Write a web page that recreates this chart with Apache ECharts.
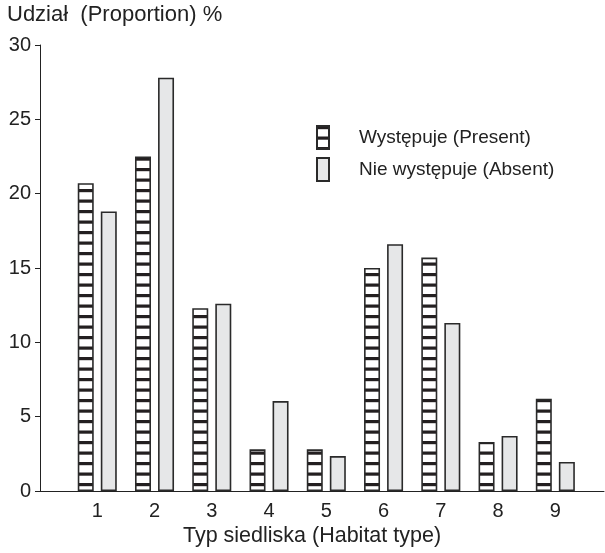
<!DOCTYPE html>
<html>
<head>
<meta charset="utf-8">
<script src="https://cdn.jsdelivr.net/npm/echarts@6/dist/echarts.min.js"></script>
<style>html,body{margin:0;padding:0;background:#fff}#c{width:605px;height:553px}</style>
</head>
<body>
<div id="c"></div>
<script>
const categories = [1, 2, 3, 4, 5, 6, 7, 8, 9];
const present = [20.7, 22.5, 12.3, 2.8, 2.8, 15.0, 15.7, 3.3, 6.2];
const absent = [18.8, 27.8, 12.6, 6.05, 2.35, 16.6, 11.3, 3.7, 1.95];
const seriesNames = ['Występuje (Present)', 'Nie występuje (Absent)'];
const yTitle = 'Udział  (Proportion) %';
const xTitle = 'Typ siedliska (Habitat type)';

const FONT = '"Liberation Sans", Arial, sans-serif';
const INK = '#222';

// horizontal stripe pattern
const pc = document.createElement('canvas');
pc.width = 8; pc.height = 21;
const g = pc.getContext('2d');
g.fillStyle = '#fff'; g.fillRect(0, 0, 8, 21);
g.fillStyle = '#231f20';
g.fillRect(0, 0, 8, 3.2);
g.fillRect(0, 10.5, 8, 3.2);

const chart = echarts.init(document.getElementById('c'), null, {renderer: 'canvas'});
chart.setOption({
  animation: false,
  backgroundColor: '#fff',
  textStyle: {fontFamily: FONT, color: INK},
  grid: {left: 40, right: 1, top: 45, bottom: 62, containLabel: false},
  title: [
    {text: yTitle, left: 7, top: 4, padding: 0, textStyle: {fontFamily: FONT, fontSize: 22, fontWeight: 'normal', color: INK}},
    {text: xTitle, left: 312, top: 525, padding: 0, textAlign: 'center', textStyle: {fontFamily: FONT, fontSize: 21.5, fontWeight: 'normal', color: INK}}
  ],
  legend: {
    orient: 'vertical', left: 316, top: 125, padding: 0, icon: 'rect',
    itemWidth: 12, itemHeight: 23, itemGap: 7,
    textStyle: {fontFamily: FONT, fontSize: 19, color: INK, padding: [0, 0, 0, 25]},
    data: seriesNames
  },
  xAxis: {
    type: 'value', min: 0, max: 9.85, interval: 1,
    axisLine: {show: true, lineStyle: {color: INK, width: 1}},
    axisTick: {show: false},
    splitLine: {show: false},
    axisLabel: {
      fontFamily: FONT, fontSize: 20, color: INK, margin: 10,
      showMaxLabel: false, showMinLabel: false,
      formatter: v => (categories.indexOf(v) >= 0 ? String(v) : '')
    }
  },
  yAxis: {
    type: 'value', min: 0, max: 30, interval: 5,
    axisLine: {show: true, lineStyle: {color: INK, width: 1}},
    axisTick: {show: true, length: 5, lineStyle: {color: INK}},
    splitLine: {show: false},
    axisLabel: {fontFamily: FONT, fontSize: 20, color: INK, margin: 9}
  },
  series: [
    {
      name: seriesNames[0], type: 'bar', barWidth: 16, barGap: '44%',
      data: categories.map((c, i) => [c, present[i]]),
      itemStyle: {color: {image: pc, repeat: 'repeat'}, borderColor: '#2a2a2a', borderWidth: 1.6}
    },
    {
      name: seriesNames[1], type: 'bar', barWidth: 16, barGap: '44%',
      data: categories.map((c, i) => [c, absent[i]]),
      itemStyle: {color: '#e6e7e8', borderColor: '#2a2a2a', borderWidth: 1.6}
    }
  ]
});
</script>
</body>
</html>
